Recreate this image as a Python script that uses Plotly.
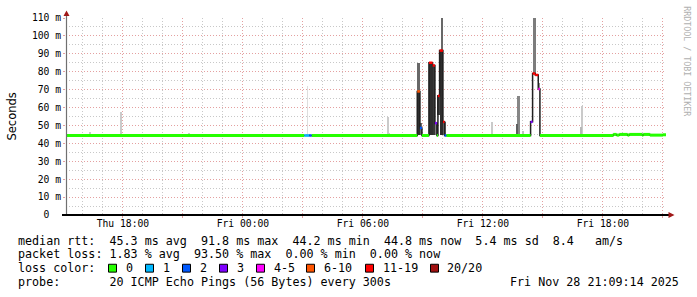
import plotly.graph_objects as go
import pandas as pd

# ---------------- data ----------------
T_START = "2025-11-27 15:09:14"
T_END = "2025-11-28 21:09:14"

# median RTT (ms) change points, step data, with lost pings (of 20)
med_time = ["2025-11-27 15:09:14", "2025-11-28 03:04", "2025-11-28 03:19", "2025-11-28 03:26",
            "2025-11-28 08:43", "2025-11-28 08:51", "2025-11-28 08:57", "2025-11-28 09:18",
            "2025-11-28 09:29", "2025-11-28 09:36", "2025-11-28 09:42", "2025-11-28 09:45",
            "2025-11-28 09:50", "2025-11-28 10:00", "2025-11-28 10:05", "2025-11-28 10:10",
            "2025-11-28 14:23", "2025-11-28 14:29", "2025-11-28 14:37", "2025-11-28 14:46",
            "2025-11-28 14:51", "2025-11-28 18:31", "2025-11-28 18:41", "2025-11-28 18:49",
            "2025-11-28 19:14", "2025-11-28 19:19", "2025-11-28 19:58", "2025-11-28 20:01",
            "2025-11-28 20:21", "2025-11-28 21:00"]
med_ms = [44.4, 44.4, 44.4, 44.4,
          69.0, 48.6, 44.4, 85.0,
          83.5, 51.3, 44.4, 66.5,
          91.8, 52.0, 44.4, 44.4,
          52.0, 79.0, 78.2, 70.3,
          44.4, 45.0, 44.6, 45.0,
          44.6, 45.0, 44.6, 45.0,
          44.6, 44.8]
med_loss = [0, 1, 2, 0,
            8, 2, 0, 15,
            14, 3, 0, 12,
            18, 12, 2, 0,
            3, 16, 15, 5,
            0, 0, 0, 0,
            0, 0, 0, 0,
            0, 0]

# smoke (ping spread) bands
smoke_start = ["2025-11-27 16:19", "2025-11-27 17:51", "2025-11-27 21:16", "2025-11-28 03:13",
               "2025-11-28 07:15", "2025-11-28 07:18", "2025-11-28 08:43", "2025-11-28 08:43",
               "2025-11-28 08:51", "2025-11-28 09:18", "2025-11-28 09:29", "2025-11-28 09:36",
               "2025-11-28 09:45", "2025-11-28 09:50", "2025-11-28 09:55", "2025-11-28 10:00",
               "2025-11-28 12:27", "2025-11-28 13:42", "2025-11-28 13:42", "2025-11-28 13:58",
               "2025-11-28 14:29", "2025-11-28 14:45", "2025-11-28 16:54", "2025-11-28 16:54"]
smoke_end = ["2025-11-27 16:24", "2025-11-27 17:57", "2025-11-27 21:22", "2025-11-28 03:15",
             "2025-11-28 07:18", "2025-11-28 07:21", "2025-11-28 08:51", "2025-11-28 08:51",
             "2025-11-28 08:57", "2025-11-28 09:29", "2025-11-28 09:36", "2025-11-28 09:42",
             "2025-11-28 09:50", "2025-11-28 10:00", "2025-11-28 09:59", "2025-11-28 10:10",
             "2025-11-28 12:30", "2025-11-28 13:51", "2025-11-28 13:45", "2025-11-28 14:02",
             "2025-11-28 14:39", "2025-11-28 14:51", "2025-11-28 17:00", "2025-11-28 16:57"]
smoke_lo = [44.5, 44.5, 44.5, 44.5,
            44.5, 44.5, 44.5, 69.0,
            44.5, 44.5, 44.5, 44.5,
            56.0, 44.5, 91.8, 44.5,
            44.5, 44.5, 44.5, 44.5,
            79.0, 70.3, 44.5, 44.5]
smoke_hi = [46.5, 57.5, 46.0, 72.0,
            55.0, 46.0, 69.0, 84.7,
            51.4, 85.5, 84.0, 52.0,
            67.0, 91.8, 118.0, 52.0,
            52.0, 66.7, 50.6, 47.0,
            118.0, 73.5, 60.8, 49.0]
smoke_density = [2, 2, 2, 0,
                 2, 2, 18, 12,
                 12, 18, 17, 10,
                 16, 18, 12, 12,
                 2, 9, 13, 3,
                 10, 8, 2, 4]

loss_labels = ["0", "1", "2", "3", "4-5", "6-10", "11-19", "20/20"]
loss_colors = ["#26ff00", "#00b8ff", "#0059ff", "#7e00ff", "#ff00ff", "#ff5500", "#ff0000", "#a01010"]

y_ticks = [0, 10, 20, 30, 40, 50, 60, 70, 80, 90, 100, 110]
x_ticks = ["2025-11-27 18:00", "2025-11-27 21:00", "2025-11-28 00:00", "2025-11-28 03:00",
           "2025-11-28 06:00", "2025-11-28 09:00", "2025-11-28 12:00", "2025-11-28 15:00",
           "2025-11-28 18:00", "2025-11-28 21:00"]
x_ticktext = ["Thu 18:00", "", "Fri 00:00", "", "Fri 06:00", "", "Fri 12:00", "", "Fri 18:00", ""]

legend_line1 = "median rtt:  45.3 ms avg  91.8 ms max  44.2 ms min  44.8 ms now  5.4 ms sd  8.4   am/s"
legend_line2 = "packet loss: 1.83 % avg  93.50 % max  0.00 % min  0.00 % now"
legend_line4 = "probe:       20 ICMP Echo Pings (56 Bytes) every 300s"
stamp = "Fri Nov 28 21:09:14 2025"

# ---------------- figure ----------------
PX0, PW, PY0, PH = 66, 600, 15, 200
NB = "\u00a0"


def keep_spaces(s):
    return s.replace(" ", NB)


def px(x):
    return (x - PX0) / PW


def py(y):
    return (PY0 + PH - y) / PH


def loss_cat(n):
    if n <= 3:
        return n
    if n <= 5:
        return 4
    if n <= 10:
        return 5
    if n <= 19:
        return 6
    return 7


fig = go.Figure()

# smoke
s0 = pd.to_datetime(pd.Series(smoke_start))
s1 = pd.to_datetime(pd.Series(smoke_end))
centers = s0 + (s1 - s0) / 2
widths = ((s1 - s0).dt.total_seconds() * 1000).tolist()
greys = []
for d in smoke_density:
    g = int(round(222 - d * 9.8))
    greys.append(f"rgb({g},{g},{g})")
order = sorted(range(len(smoke_density)), key=lambda i: smoke_density[i])
fig.add_trace(go.Bar(
    x=[centers[i] for i in order],
    y=[smoke_hi[i] - smoke_lo[i] for i in order],
    base=[smoke_lo[i] for i in order],
    width=[widths[i] for i in order],
    marker=dict(color=[greys[i] for i in order], line=dict(width=0)),
    showlegend=False, hoverinfo="skip"))

# black median step line
fig.add_trace(go.Scatter(
    x=med_time + [T_END], y=med_ms + [med_ms[-1]],
    mode="lines", line=dict(color="#202020", width=1.5, shape="hv"),
    showlegend=False, hoverinfo="skip"))

# coloured median by loss
t_all = med_time + [T_END]
for c in range(len(loss_labels)):
    xs, ys = [], []
    for i in range(len(med_time)):
        if loss_cat(med_loss[i]) == c:
            xs += [t_all[i], t_all[i + 1], None]
            ys += [med_ms[i], med_ms[i], None]
    if xs:
        fig.add_trace(go.Scatter(
            x=xs, y=ys, mode="lines",
            line=dict(color=loss_colors[c], width=3 if c == 0 else 2.5),
            showlegend=False, hoverinfo="skip"))

MONO = "DejaVu Sans Mono"
GRID = "#c8c8c8"
MGRID = "#e4a0a0"

fig.update_layout(
    width=697, height=297,
    margin=dict(l=PX0, r=697 - PX0 - PW, t=PY0, b=297 - PY0 - PH),
    paper_bgcolor="white", plot_bgcolor="white",
    barmode="overlay", bargap=0,
    showlegend=False,
    font=dict(family=MONO, size=10, color="#000"),
)
fig.update_xaxes(
    type="date", range=[T_START, T_END],
    tickvals=x_ticks, ticktext=x_ticktext,
    tickfont=dict(family=MONO, size=9.7, color="#000"),
    showgrid=True, gridcolor=MGRID, griddash="1px,2px", gridwidth=1,
    minor=dict(dtick=3600000, tick0="2025-11-27 00:00", showgrid=True,
               gridcolor=GRID, griddash="1px,2px", gridwidth=1),
    showline=False,
    ticks="outside", ticklen=2, tickcolor=MGRID,
    ticklabelstandoff=-3,
    zeroline=False, fixedrange=True,
)
fig.update_yaxes(
    range=[0, 110],
    tickvals=y_ticks,
    ticktext=[keep_spaces("%d m" % v) if v else keep_spaces("0  ") for v in y_ticks],
    tickfont=dict(family=MONO, size=9.7, color="#000"),
    showgrid=True, gridcolor=MGRID, griddash="1px,2px", gridwidth=1,
    minor=dict(dtick=5, showgrid=True, gridcolor=GRID, griddash="1px,2px", gridwidth=1),
    showline=False,
    ticks="outside", ticklen=2, tickcolor=MGRID,
    zeroline=False, fixedrange=True,
)

shapes = []
# axis lines and arrows
shapes.append(dict(type="line", xref="paper", yref="paper", x0=px(66.5), x1=px(66.5), y0=py(215), y1=py(12),
                   line=dict(color="#707070", width=1.2)))
shapes.append(dict(type="line", xref="paper", yref="paper", x0=px(62), x1=px(669), y0=py(215), y1=py(215),
                   line=dict(color="#000", width=2)))
shapes.append(dict(type="path", xref="paper", yref="paper",
                   path=f"M {px(66.5)},{py(7.5)} L {px(63.5)},{py(13)} L {px(69.5)},{py(13)} Z",
                   fillcolor="#a01818", line=dict(width=0)))
shapes.append(dict(type="path", xref="paper", yref="paper",
                   path=f"M {px(674.5)},{py(215)} L {px(668.5)},{py(212)} L {px(668.5)},{py(218)} Z",
                   fillcolor="#a01818", line=dict(width=0)))

annotations = []
FS = 11.7


def txt(x, y, s, anchor="left", size=FS, color="#000", angle=0, family=MONO):
    annotations.append(dict(xref="paper", yref="paper", x=px(x), y=py(y), text=keep_spaces(s),
                            showarrow=False, xanchor=anchor, yanchor="middle",
                            textangle=angle, font=dict(family=family, size=size, color=color)))


txt(16, 241, legend_line1)
txt(16, 255, legend_line2)
txt(16, 269, "loss color:")
txt(16, 283, legend_line4)
txt(681, 283, stamp, anchor="right")

box_left = [108.5, 145.5, 182.5, 219.5, 256.5, 306.5, 365.5, 430.5]
for i, lab in enumerate(loss_labels):
    bl = box_left[i]
    shapes.append(dict(type="rect", xref="paper", yref="paper",
                       x0=px(bl), x1=px(bl + 8), y0=py(273), y1=py(265),
                       fillcolor=loss_colors[i], line=dict(color="#000", width=1)))
    txt(bl + 15, 269, lab)

# y title and watermark
annotations.append(dict(xref="paper", yref="paper", x=px(11), y=py(115), text="Seconds",
                        showarrow=False, xanchor="center", yanchor="middle", textangle=-90,
                        font=dict(family="DejaVu Sans", size=11.5, color="#000")))
annotations.append(dict(xref="paper", yref="paper", x=px(687), y=py(59), text=keep_spaces("RRDTOOL / TOBI OETIKER"),
                        showarrow=False, xanchor="center", yanchor="middle", textangle=90,
                        font=dict(family=MONO, size=8.3, color="#b0b0b0")))

fig.update_layout(shapes=shapes, annotations=annotations)
fig.write_html("out.html")
